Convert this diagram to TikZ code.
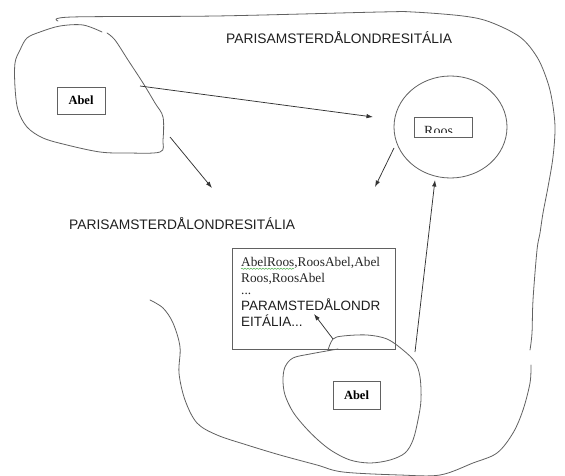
\documentclass[tikz,border=0pt]{standalone}
\usepackage{fontspec}
\setmainfont{Liberation Serif}
\newfontfamily\arialf{Liberation Sans}
\usetikzlibrary{arrows.meta,shapes.geometric,decorations.pathmorphing}
\begin{document}
\begin{tikzpicture}[x=1pt,y=-1pt,
  sketch/.style={draw=black!62, line width=0.8pt, line join=round, line cap=round},
  arr/.style={draw=black!80, line width=0.75pt, -{Latex[length=6.5pt,width=4.5pt]}},
  box/.style={draw=black!62, line width=0.8pt, inner sep=0pt},
  lbl/.style={font=\arialf\fontsize{13.8}{16}\selectfont, text=black!88, inner sep=0pt, anchor=base west},
  ser/.style={font=\fontsize{13.3}{16}\selectfont, text=black!85, inner sep=0pt, anchor=base west},
  sans/.style={font=\arialf\fontsize{13.5}{16}\selectfont, text=black!88, inner sep=0pt, anchor=base west},
]
\useasboundingbox[fill=white] (0,0) rectangle (565,476);

% outer hand-drawn outline (open at the left)
\draw[sketch] plot[smooth, tension=0.55] coordinates {
  (150,300) (163,308) (173,323) (180,347) (179,373) (185,400) (197,423)
  (217,435) (247,445) (280,455) (317,465) (343,472) (400,475) (440,475)
  (473,463) (497,453) (513,433) (523,410) (530,383) (531,365)};
\draw[sketch] plot[smooth, tension=0.55] coordinates {
  (530,350) (532,333) (533,300) (537,250) (540,233) (543,213) (548,187)
  (553,157) (555,127) (552,100) (547,80) (537,57) (520,37) (490,22)
  (463,16) (413,12) (380,12) (216,16) (72,17) (58,21)};

% upper-left blob
\draw[sketch] plot[smooth, tension=0.55] coordinates {
  (102,32) (83,25) (60,26) (40,32) (27,38) (20,50) (15,63) (15,87) (18,110)
  (27,127) (43,138) (67,145) (100,152) (127,153) (160,152) (163,140)
  (163,117) (155,103) (143,83) (128,60) (115,40) (107,33)};

% lower blob
\draw[sketch] plot[smooth, tension=0.55] coordinates {
  (328,350) (333,339) (343,336) (367,335) (387,339) (403,350) (415,362)
  (420,377) (421,400) (418,420) (413,440) (405,453) (390,460) (370,463)
  (350,460) (332,451) (318,440) (305,427) (293,412) (285,395) (283,380)
  (285,367) (293,358) (310,354) (338,349)};

% circle with Roos
\node[ellipse, draw=black!62, line width=0.8pt, minimum width=113pt, minimum height=102pt, inner sep=0pt] (circ) at (450.5,127) {};
\begin{scope}
  \clip (414,117) rectangle (472,132.5);
  \node[ser, font=\fontsize{14}{16}\selectfont] (roostext) at (424,135.5) {Roos};
\end{scope}
\node[box, minimum width=58pt, minimum height=20pt] (roos) at (443,127) {};

% Abel boxes
\node[box, minimum width=48pt, minimum height=27pt] (abelA) at (81,100.5) {\bfseries\fontsize{12.5}{14}\selectfont Abel};
\node[box, minimum width=47pt, minimum height=28pt] (abelB) at (356.5,395) {\bfseries\fontsize{12.5}{14}\selectfont Abel};

% labels
\node[lbl] (labtop) at (226,44) {PARISAMSTERDÅLONDRESITÁLIA};
\node[lbl] (labmid) at (69,229.5) {PARISAMSTERDÅLONDRESITÁLIA};

% text box
\node[box, minimum width=163pt, minimum height=101pt] (tbox) at (313.5,298.5) {};
\node[ser] (t1) at (241,266.5) {AbelRoos,RoosAbel,Abel};
\node[ser] (t2) at (241,282) {Roos,RoosAbel};
\node[ser] (t3) at (241,294.5) {...};
\node[sans] (t4) at (241,310) {PARAMSTEDÅLONDR};
\node[sans] (t5) at (241,326) {EITÁLIA...};
\coordinate (wA) at (241,268.8);
\coordinate (wB) at (294,268.8);
\draw[draw=green!55!black!70, line width=0.5pt, decorate, decoration={snake, amplitude=0.6pt, segment length=3pt}] (wA) -- (wB);

% arrows
\coordinate (a1s) at (140,86);   \coordinate (a1e) at (373,117);
\coordinate (a2s) at (170,137);  \coordinate (a2e) at (212,188);
\coordinate (a3s) at (394,148);  \coordinate (a3e) at (375,187);
\coordinate (a4s) at (415,352);  \coordinate (a4e) at (435,180);
\coordinate (a5s) at (333,339);  \coordinate (a5e) at (314,314);
\draw[arr] (a1s) -- (a1e);
\draw[arr] (a2s) -- (a2e);
\draw[arr] (a3s) -- (a3e);
\draw[arr] (a4s) -- (a4e);
\draw[arr] (a5s) -- (a5e);
\end{tikzpicture}
\end{document}
